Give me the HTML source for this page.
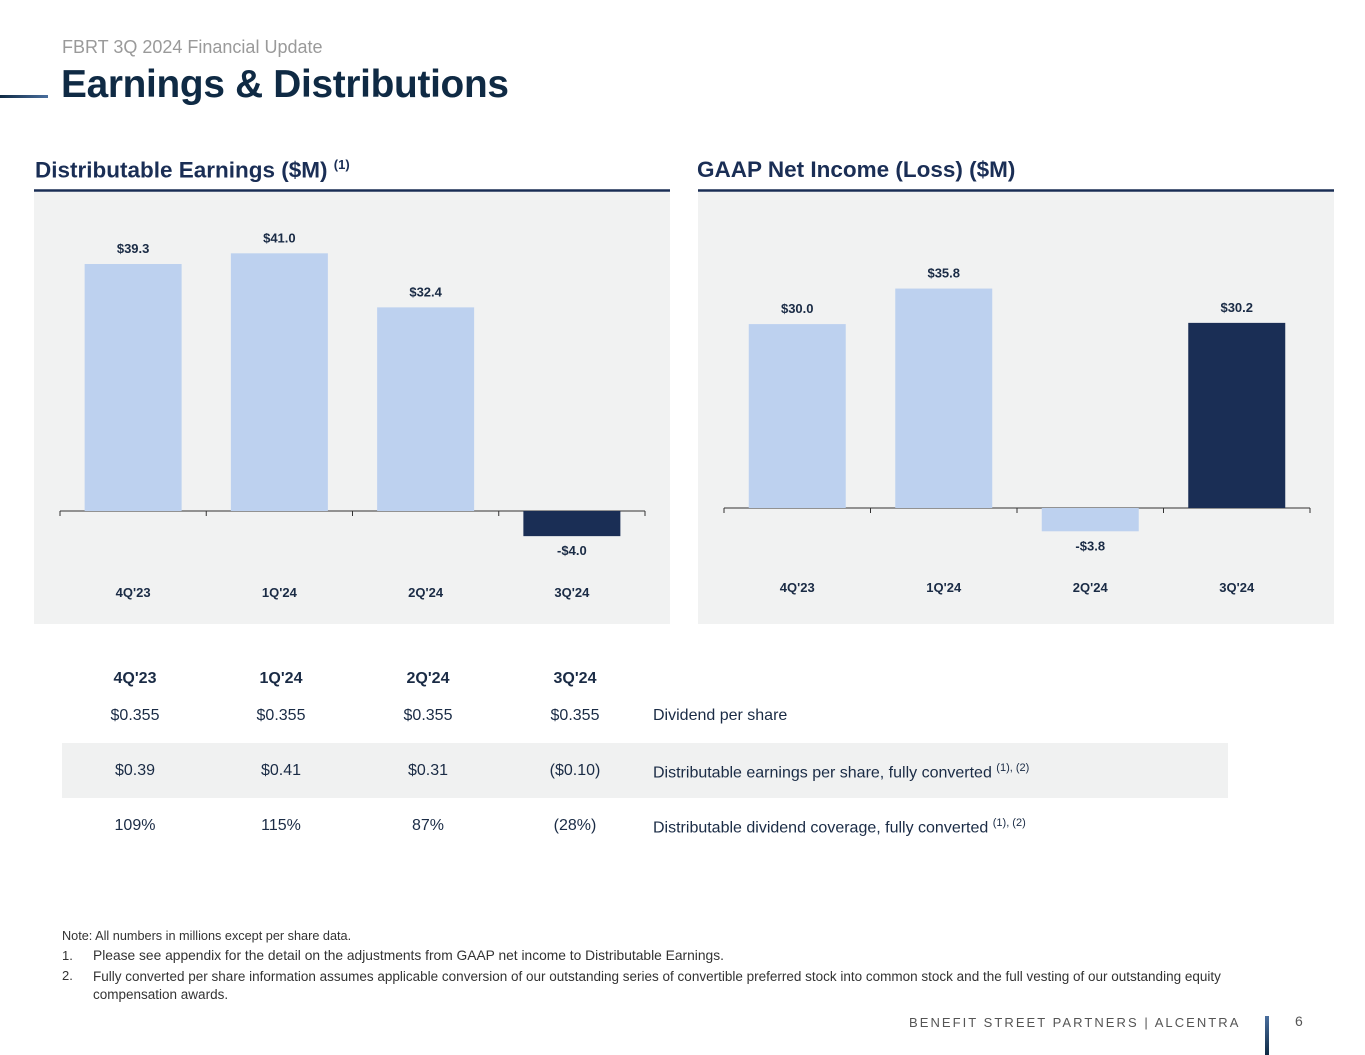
<!DOCTYPE html>
<html><head><meta charset="utf-8"><style>
body{margin:0;width:1365px;height:1055px;background:#fff;position:relative;overflow:hidden;font-family:"Liberation Sans",sans-serif;color:#1a2b45}
.a{position:absolute;white-space:nowrap}
.sub{left:62px;top:37px;font-size:18px;color:#9a9a9a}
.title{left:61px;top:63px;font-size:38.8px;font-weight:bold;color:#0f2a44;letter-spacing:-0.3px}
.h{font-size:22.5px;font-weight:bold;color:#1a2e55;top:157px}
.h sup{font-size:13px}
.tc{font-size:16px;text-align:center;width:100px;margin-left:-50px}
.tl{font-size:16px;left:653px}
.tl sup{font-size:11px}
.note{font-size:13px;color:#333}
</style></head><body>
<div class="a sub">FBRT 3Q 2024 Financial Update</div>
<div class="a" style="left:0;top:95px;width:48px;height:3px;background:linear-gradient(90deg,#0f2a44,#4a6f9e)"></div>
<div class="a title">Earnings &amp; Distributions</div>
<div class="a h" style="left:35px">Distributable Earnings ($M) <sup>(1)</sup></div>
<div class="a h" style="left:697px">GAAP Net Income (Loss) ($M)</div>
<svg id="charts" class="a" style="left:0;top:0" width="1365" height="640"></svg>

<div class="a" style="left:62px;top:743px;width:1166px;height:55px;background:#f0f1f1"></div>
<div id="tbl"></div>

<div class="a note" style="left:62px;top:929px;font-size:12.7px">Note: All numbers in millions except per share data.</div>
<div class="a note" style="left:62px;top:948px">1.</div>
<div class="a note" style="left:93px;top:948px;font-size:13.8px">Please see appendix for the detail on the adjustments from GAAP net income to Distributable Earnings.</div>
<div class="a note" style="left:62px;top:968px">2.</div>
<div class="a note" style="left:93px;top:968px;white-space:normal;width:1180px;line-height:18px;font-size:13.5px">Fully converted per share information assumes applicable conversion of our outstanding series of convertible preferred stock into common stock and the full vesting of our outstanding equity compensation awards.</div>
<div class="a" style="left:909px;top:1015px;font-size:13px;letter-spacing:2.05px;color:#555">BENEFIT STREET PARTNERS | ALCENTRA</div>
<div class="a" style="left:1265px;top:1016px;width:4px;height:39px;background:linear-gradient(#4a6f9e,#0f2a44)"></div>
<div class="a" style="left:1295px;top:1013px;font-size:14px;color:#555">6</div>
<script>
const categories=["4Q'23","1Q'24","2Q'24","3Q'24"];
const deValues=[39.3,41.0,32.4,-4.0];
const gaapValues=[30.0,35.8,-3.8,30.2];
const dividend=["$0.355","$0.355","$0.355","$0.355"];
const dePerShare=["$0.39","$0.41","$0.31","($0.10)"];
const coverage=["109%","115%","87%","(28%)"];
const NS="http://www.w3.org/2000/svg";
const svg=document.getElementById('charts');
function mk(t,a,p){const e=document.createElementNS(NS,t);for(const k in a)e.setAttribute(k,a[k]);(p||svg).appendChild(e);return e;}
function chart(cfg){
  const g=mk('g',{});
  
  
  const bg=mk('rect',{x:cfg.px,y:192,width:636,height:432,fill:'#f1f2f2'},g);
  
  const hl=mk('line',{x1:cfg.px,x2:cfg.px+636,y1:190.5,y2:190.5,stroke:'#1a2e55','stroke-width':2.5},g);
  
  const y=v=>cfg.base-v*cfg.k;
  const step=(cfg.x1-cfg.x0)/categories.length;
  const ax=mk('line',{x1:cfg.x0,x2:cfg.x1,y1:cfg.base,y2:cfg.base,stroke:'#333','stroke-width':1},g);
  
  for(let i=0;i<=categories.length;i++){
    const t=mk('line',{x1:cfg.x0+i*step,x2:cfg.x0+i*step,y1:cfg.base,y2:cfg.base+5,stroke:'#333'},g);
    
  }
  cfg.vals.forEach((v,i)=>{
    const cx=cfg.x0+step*(i+0.5);
    const top=Math.min(y(v),y(0)),h=Math.abs(y(v)-y(0));
    const dark=cfg.dark(v,i);
    const b=mk('rect',{x:cx-48.5,y:top,width:97,height:h,fill:dark?'#1a2e55':'#bdd1ef'},g);
    
    
    const lt=mk('text',{x:cx,y:v>=0?top-11:top+h+19,'text-anchor':'middle','font-size':13,'font-weight':'bold',fill:'#1a2b45'},g);
    lt.textContent=(v<0?'-$':'$')+Math.abs(v).toFixed(1);
    
    const ct=mk('text',{x:cx,y:cfg.catY,'text-anchor':'middle','font-size':13,'font-weight':'bold',fill:'#1a2b45'},g);
    ct.textContent=categories[i];
    
  });
}
chart({name:'distributable-earnings-chart',px:34,x0:60,x1:645,base:511,k:6.285,vals:deValues,catY:597,dark:v=>v<0});
chart({name:'gaap-net-income-chart',px:698,x0:724,x1:1310,base:508,k:6.13,vals:gaapValues,catY:592,dark:(v,i)=>i===3});
const tbl=document.getElementById('tbl');
const cx=[135,281,428,575];
function row(arr,top,bold,name){
  arr.forEach((s,i)=>{
    const d=document.createElement('div');
    d.className='a tc';d.style.left=cx[i]+'px';d.style.top=top+'px';
    if(bold)d.style.fontWeight='bold';
    d.textContent=s;
    
    
    tbl.appendChild(d);
  });
}
row(categories,670,true,'table-header');
row(dividend,707,false,'dividend-cell');
row(dePerShare,762,false,'de-per-share-cell');
row(coverage,817,false,'coverage-cell');
const labels=[['Dividend per share',707,''],['Distributable earnings per share, fully converted ',762,'(1), (2)'],['Distributable dividend coverage, fully converted ',817,'(1), (2)']];
labels.forEach(l=>{
  const d=document.createElement('div');
  d.className='a tl';d.style.top=l[1]+'px';
  d.innerHTML=l[0]+(l[2]?'<sup>'+l[2]+'</sup>':'');
  
  
  tbl.appendChild(d);
});
</script>
</body></html>
